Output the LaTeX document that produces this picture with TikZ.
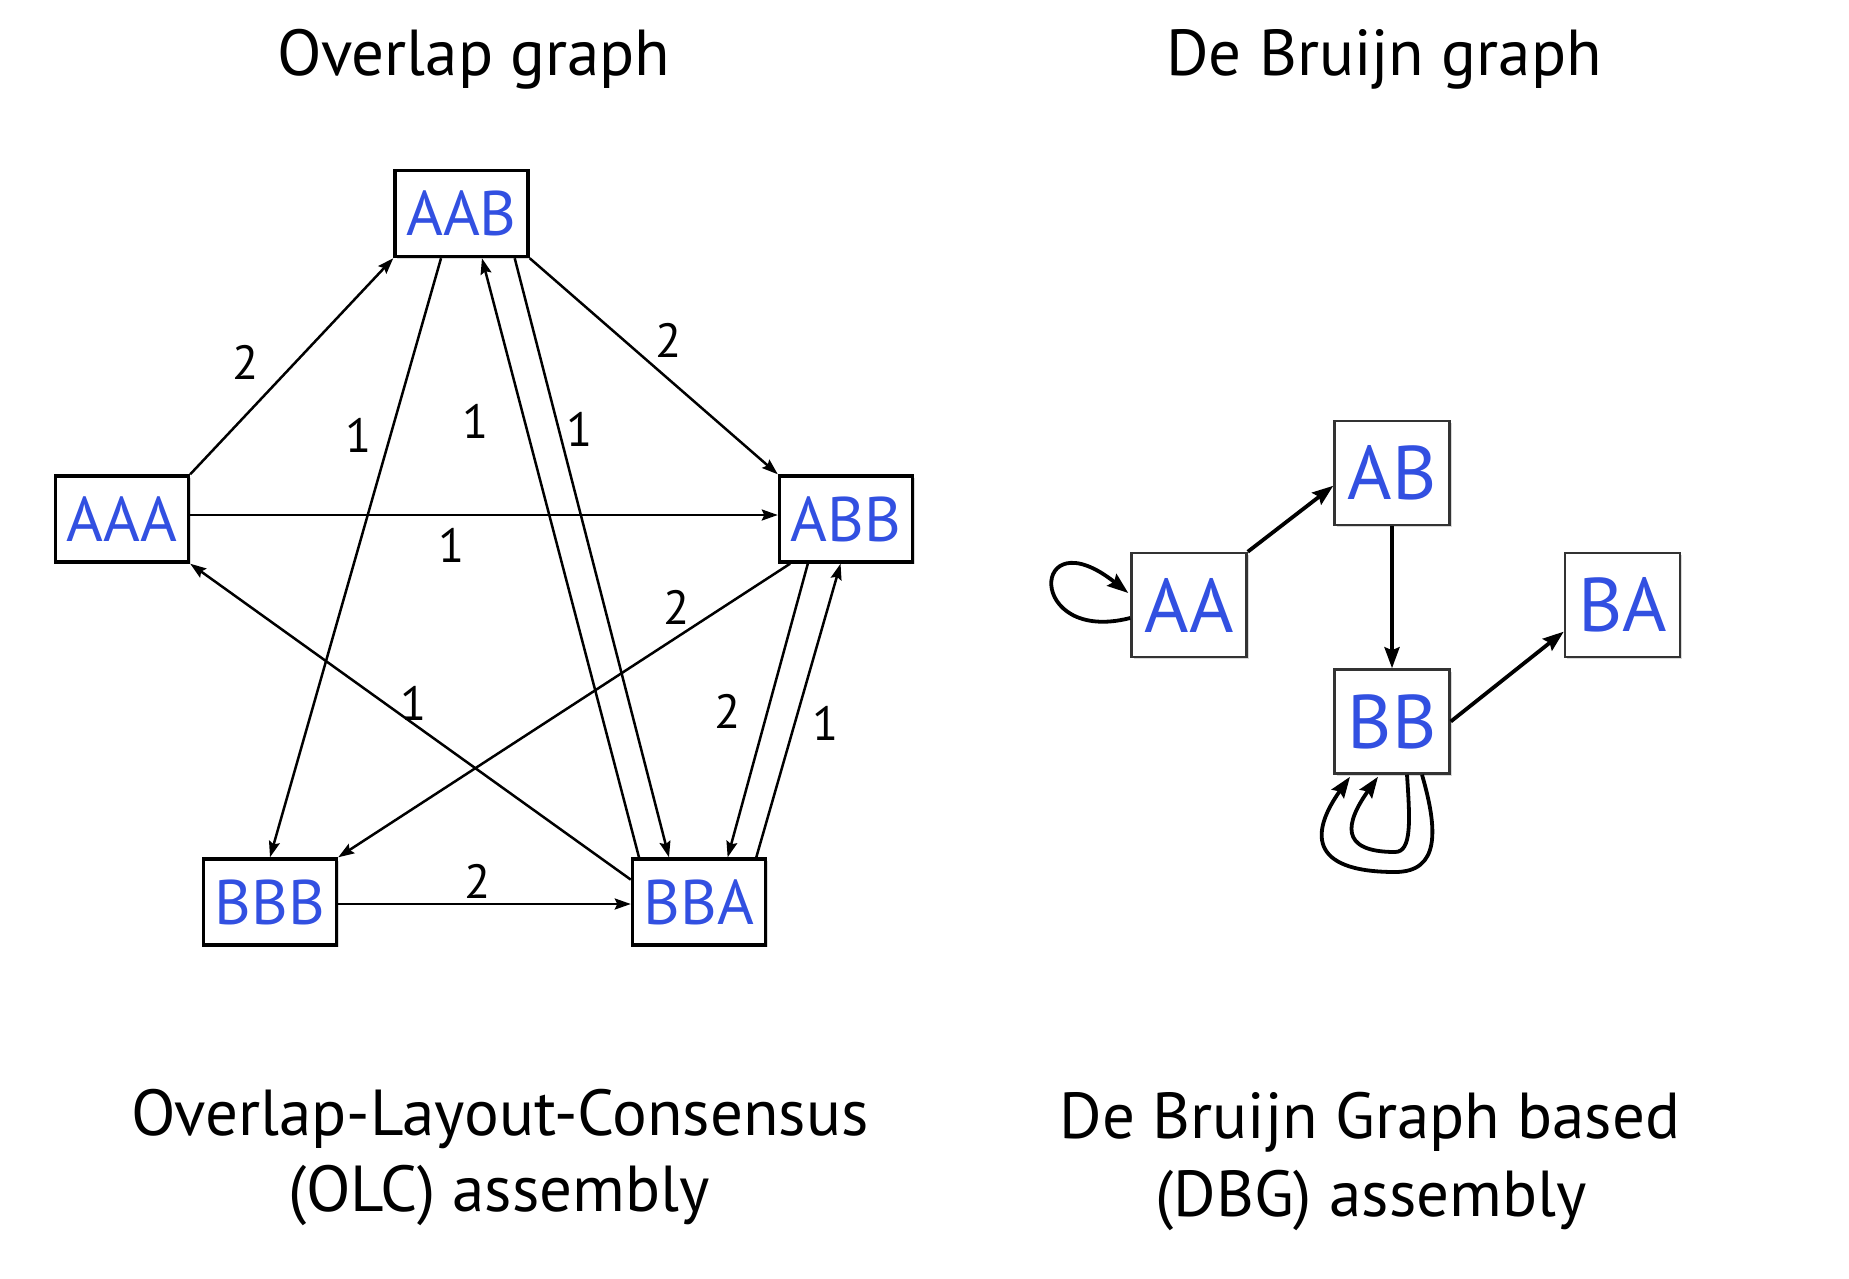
\documentclass[tikz,border=0pt]{standalone}
\usepackage{fontspec}
\setmainfont{PT Sans}
\usetikzlibrary{arrows.meta,shadows,calc}
\definecolor{nodeblue}{RGB}{50,80,225}
\begin{document}
\begin{tikzpicture}[x=1pt,y=-1pt,
  olc/.style={draw=black, line width=3.4pt, fill=white, minimum width=133pt, minimum height=86pt,
    inner sep=0pt, text=nodeblue, font=\fontsize{63}{75}\selectfont,
    drop shadow={shadow xshift=2pt,shadow yshift=-2pt,opacity=0.3}},
  dbg/.style={draw=black!80, line width=2.5pt, fill=white, minimum width=115pt, minimum height=104pt,
    inner sep=0pt, text=nodeblue, font=\fontsize{76}{90}\selectfont,
    drop shadow={shadow xshift=2pt,shadow yshift=-2pt,opacity=0.3}},
  oe/.style={line width=2.5pt, -{Stealth[length=16pt,width=11pt,inset=2.5pt]}},
  de/.style={line width=3.8pt, -{Stealth[length=21pt,width=15pt,inset=3pt]}},
  lab/.style={inner sep=0pt, font=\fontsize{48}{58}\selectfont},
  ttl/.style={inner sep=0pt, anchor=base, font=\fontsize{65}{78}\selectfont}]
\fill[white] (0,0) rectangle (1849,1279);
\useasboundingbox (0,0) rectangle (1849,1279);

% titles
\node[ttl] (t1) at (474,76) {Overlap graph};
\node[ttl] (t2) at (1384,76) {De Bruijn graph};
\node[ttl] (c1a) at (500,1135) {Overlap-Layout-Consensus};
\node[ttl] (c1b) at (499,1211) {(OLC) assembly};
\node[ttl] (c2a) at (1370,1138) {De Bruijn Graph based};
\node[ttl] (c2b) at (1371,1216) {(DBG) assembly};

% overlap graph nodes
\node[olc] (AAB) at (461.5,213.5) {AAB};
\node[olc] (AAA) at (122,519) {AAA};
\node[olc] (ABB) at (846,519) {ABB};
\node[olc] (BBB) at (270,902) {BBB};
\node[olc] (BBA) at (699,902) {BBA};

% overlap graph edges
\draw[oe] (AAA.north east) -- (AAB.south west);
\draw[oe] (AAB.south east) -- (ABB.north west);
\draw[oe] ($(AAA.east)+(0,-4)$) -- ($(ABB.west)+(0,-4)$);
\draw[oe] ($(AAB.south west)!0.35!(AAB.south east)$) -- (BBB.north);
\draw[oe] ($(BBA.north west)!0.06!(BBA.north east)$) -- ($(AAB.south west)!0.65!(AAB.south east)$);
\draw[oe] ($(AAB.south west)!0.89!(AAB.south east)$) -- ($(BBA.north west)!0.28!(BBA.north east)$);
\draw[oe] ($(ABB.south west)!0.09!(ABB.south east)$) -- (BBB.north east);
\draw[oe] ($(BBA.north west)!0.25!(BBA.south west)$) -- (AAA.south east);
\draw[oe] ($(ABB.south west)!0.22!(ABB.south east)$) -- ($(BBA.north west)!0.71!(BBA.north east)$);
\draw[oe] ($(BBA.north west)!0.92!(BBA.north east)$) -- ($(ABB.south west)!0.46!(ABB.south east)$);
\draw[oe] ($(BBB.east)+(0,2)$) -- ($(BBA.west)+(0,2)$);

% edge labels
\node[lab] (l1) at (246,362) {2};
\node[lab] (l2) at (669,340) {2};
\node[lab] (l3) at (359,435) {1};
\node[lab] (l4) at (476,421) {1};
\node[lab] (l5) at (580,429) {1};
\node[lab] (l6) at (452,545) {1};
\node[lab] (l7) at (677,607) {2};
\node[lab] (l8) at (414,703) {1};
\node[lab] (l9) at (728,711) {2};
\node[lab] (l10) at (826,723) {1};
\node[lab] (l11) at (478,881) {2};

% de Bruijn graph nodes
\node[dbg] (AA) at (1189,605) {AA};
\node[dbg] (AB) at (1392,473) {AB};
\node[dbg] (BA) at (1622.5,605) {BA};
\node[dbg] (BB) at (1392,721.5) {BB};

% de Bruijn graph edges
\draw[de] (AA.north east) -- ($(AB.north west)!0.62!(AB.south west)$);
\draw[de] (AB.south) -- (BB.north);
\draw[de] (BB.east) -- ($(BA.north west)!0.75!(BA.south west)$);
\draw[de] ($(AA.west)+(0,13)$) .. controls (1025,645) and (1030,515) .. ($(AA.west)+(-2,-12)$);
\draw[de] ($(BB.south)+(30,0)$) .. controls (1438,830) and (1440,872) .. (1395,872)
   .. controls (1306,872) and (1312,830) .. ($(BB.south)+(-42,2)$);
\draw[de] ($(BB.south)+(15,0)$) .. controls (1410,820) and (1412,852) .. (1395,852)
   .. controls (1338,852) and (1346,822) .. ($(BB.south)+(-14,2)$);
\end{tikzpicture}
\end{document}
